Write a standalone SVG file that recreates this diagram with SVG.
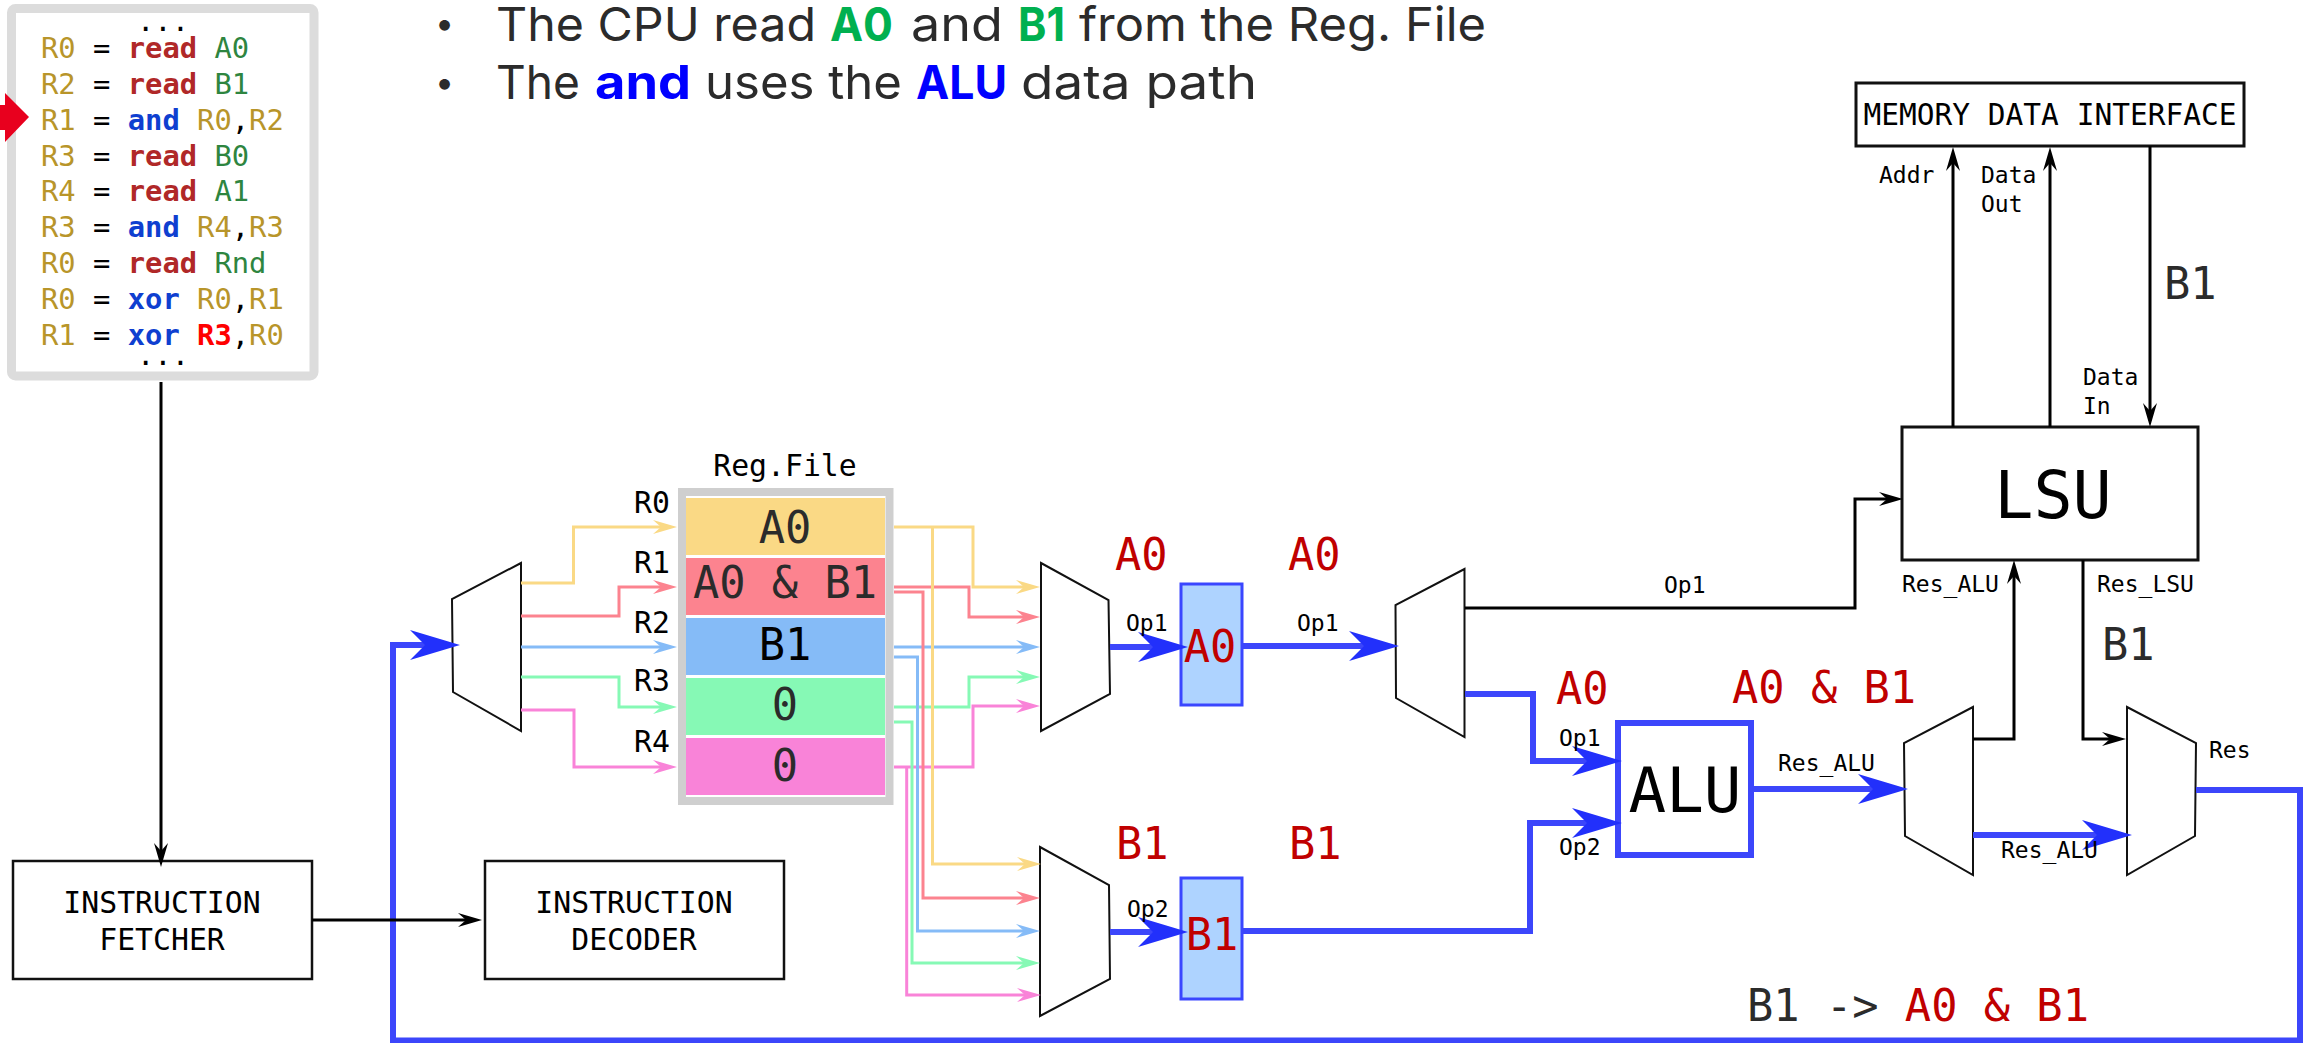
<svg xmlns="http://www.w3.org/2000/svg" width="2308" height="1043" viewBox="0 0 2308 1043">
<style>
text{font-family:"DejaVu Sans Mono","Liberation Mono",monospace;fill:#000}
.code{font-size:28.8px}
.r{fill:#b8952a}.rd{fill:#b02828;font-weight:bold}.op{fill:#0f3fd0;font-weight:bold}.v{fill:#2e8540}.hot{fill:#ff0000;font-weight:bold}
.big{font-size:43.700px;fill:#c00000}.dark{fill:#2b2b2b}
.sm{font-size:23px}.md{font-size:29.800px}
.mid{text-anchor:middle}
.bul{font-family:Inter,"Noto Sans",sans-serif;font-size:47px;fill:#2b2b2b}
.dot{font-family:Inter,"Noto Sans",sans-serif;font-size:34px;fill:#2b2b2b}
.grn{fill:#00b050;font-weight:bold}.blu{fill:#0000ff;font-weight:bold}
.box{fill:#fff;stroke:#111;stroke-width:2.5}
.mux{fill:#fff;stroke:#111;stroke-width:2;stroke-linejoin:miter}
.reg{fill:#aed3ff;stroke:#3a46ff;stroke-width:3}
path.k,path.b,path.c{fill:none}
.k{stroke:#000;stroke-width:3}
.b{stroke:#3c46fb;stroke-width:6}
.c{stroke-width:3}
</style>
<defs>
<marker id="mk" markerUnits="userSpaceOnUse" markerWidth="24" markerHeight="14" refX="12" refY="7" orient="auto" overflow="visible"><path d="M0 0L24 7L0 14L8 7Z" fill="#000"/></marker>
<marker id="mb" markerUnits="userSpaceOnUse" markerWidth="50" markerHeight="30" refX="30" refY="15" orient="auto" overflow="visible"><path d="M0 0L50 15L0 30L15 15Z" fill="#2230fb"/></marker>
<marker id="my" markerUnits="userSpaceOnUse" markerWidth="24" markerHeight="14" refX="12" refY="7" orient="auto" overflow="visible"><path d="M0 0L24 7L0 14L8 7Z" fill="#fad985"/></marker>
<marker id="mr" markerUnits="userSpaceOnUse" markerWidth="24" markerHeight="14" refX="12" refY="7" orient="auto" overflow="visible"><path d="M0 0L24 7L0 14L8 7Z" fill="#fc838f"/></marker>
<marker id="ml" markerUnits="userSpaceOnUse" markerWidth="24" markerHeight="14" refX="12" refY="7" orient="auto" overflow="visible"><path d="M0 0L24 7L0 14L8 7Z" fill="#85bbf7"/></marker>
<marker id="mg" markerUnits="userSpaceOnUse" markerWidth="24" markerHeight="14" refX="12" refY="7" orient="auto" overflow="visible"><path d="M0 0L24 7L0 14L8 7Z" fill="#86f9b5"/></marker>
<marker id="mp" markerUnits="userSpaceOnUse" markerWidth="24" markerHeight="14" refX="12" refY="7" orient="auto" overflow="visible"><path d="M0 0L24 7L0 14L8 7Z" fill="#f983d8"/></marker>
</defs>
<rect width="2308" height="1043" fill="#fff"/>

<g id="bullets">
<text class="dot" x="435" y="35">•</text>
<text class="dot" x="435" y="94">•</text>
<text class="bul" x="496" y="41" textLength="320" lengthAdjust="spacingAndGlyphs">The CPU read</text>
<text class="bul grn" x="830" y="41" textLength="63" lengthAdjust="spacingAndGlyphs">A0</text>
<text class="bul" x="911" y="41" textLength="92" lengthAdjust="spacingAndGlyphs">and</text>
<text class="bul grn" x="1018" y="41" textLength="47" lengthAdjust="spacingAndGlyphs">B1</text>
<text class="bul" x="1079" y="41" textLength="407" lengthAdjust="spacingAndGlyphs">from the Reg. File</text>
<text class="bul" x="496" y="99" textLength="84" lengthAdjust="spacingAndGlyphs">The</text>
<text class="bul blu" x="595" y="99" textLength="96" lengthAdjust="spacingAndGlyphs">and</text>
<text class="bul" x="705" y="99" textLength="197" lengthAdjust="spacingAndGlyphs">uses the</text>
<text class="bul blu" x="916" y="99" textLength="91" lengthAdjust="spacingAndGlyphs">ALU</text>
<text class="bul" x="1021" y="99" textLength="236" lengthAdjust="spacingAndGlyphs">data path</text>
</g>

<g id="code">
<rect x="11.5" y="8.5" width="302.500" height="367.500" rx="4" fill="#fff" stroke="#dcdcdc" stroke-width="9"/>
<text class="code mid" x="163" y="31">...</text>
<text class="code" x="41" y="58"><tspan class="r">R0</tspan> = <tspan class="rd">read</tspan> <tspan class="v">A0</tspan></text>
<text class="code" x="41" y="94"><tspan class="r">R2</tspan> = <tspan class="rd">read</tspan> <tspan class="v">B1</tspan></text>
<text class="code" x="41" y="130"><tspan class="r">R1</tspan> = <tspan class="op">and</tspan> <tspan class="r">R0</tspan>,<tspan class="r">R2</tspan></text>
<text class="code" x="41" y="166"><tspan class="r">R3</tspan> = <tspan class="rd">read</tspan> <tspan class="v">B0</tspan></text>
<text class="code" x="41" y="201"><tspan class="r">R4</tspan> = <tspan class="rd">read</tspan> <tspan class="v">A1</tspan></text>
<text class="code" x="41" y="237"><tspan class="r">R3</tspan> = <tspan class="op">and</tspan> <tspan class="r">R4</tspan>,<tspan class="r">R3</tspan></text>
<text class="code" x="41" y="273"><tspan class="r">R0</tspan> = <tspan class="rd">read</tspan> <tspan class="v">Rnd</tspan></text>
<text class="code" x="41" y="309"><tspan class="r">R0</tspan> = <tspan class="op">xor</tspan> <tspan class="r">R0</tspan>,<tspan class="r">R1</tspan></text>
<text class="code" x="41" y="345"><tspan class="r">R1</tspan> = <tspan class="op">xor</tspan> <tspan class="hot">R3</tspan>,<tspan class="r">R0</tspan></text>
<text class="code mid" x="163" y="365">...</text>
</g>
<path id="pc-arrow" d="M0 105H5V93L29 117L5 142V130H0Z" fill="#e8001e"/>

<g id="fetcher"><rect class="box" x="13" y="861" width="299" height="118"/>
<text class="md mid" x="162" y="913">INSTRUCTION</text><text class="md mid" x="162" y="950">FETCHER</text></g>
<g id="decoder"><rect class="box" x="485" y="861" width="299" height="118"/>
<text class="md mid" x="634" y="913">INSTRUCTION</text><text class="md mid" x="634" y="950">DECODER</text></g>

<g id="regfile">
<rect x="682" y="492" width="207.500" height="309" fill="#fff" stroke="#cfcfcf" stroke-width="8"/>
<rect x="686" y="498" width="199" height="57" fill="#fad985"/>
<rect x="686" y="558" width="199" height="57" fill="#fc838f"/>
<rect x="686" y="618" width="199" height="57" fill="#85bbf7"/>
<rect x="686" y="678" width="199" height="57" fill="#86f9b5"/>
<rect x="686" y="738" width="199" height="57" fill="#f983d8"/>
<text class="big dark mid" x="785" y="543">A0</text>
<text class="big dark mid" x="785" y="598">A0 &amp; B1</text>
<text class="big mid" style="fill:#000" x="785" y="660">B1</text>
<text class="big dark mid" x="785" y="720">0</text>
<text class="big dark mid" x="785" y="781">0</text>
<text class="md mid" x="785" y="476">Reg.File</text>
<text class="md" x="634" y="513">R0</text><text class="md" x="634" y="573">R1</text><text class="md" x="634" y="633">R2</text><text class="md" x="634" y="691">R3</text><text class="md" x="634" y="752">R4</text>
</g>

<g id="mux-wb"><path class="mux" d="M521 563L452 599L453 692L521 731Z"/></g>
<g id="mux-op1"><path class="mux" d="M1041 563L1108.500 600L1110 694L1041 731Z"/></g>
<g id="mux-op2"><path class="mux" d="M1040 847L1109 885L1110 979L1040 1016Z"/></g>
<g id="mux-ex"><path class="mux" d="M1464.500 569L1395.500 605L1396 698L1464.500 737Z"/></g>
<g id="mux-alu"><path class="mux" d="M1973 707L1904 743L1905 836L1973 875Z"/></g>
<g id="mux-res"><path class="mux" d="M2127 707L2196 743L2195 836L2127 875Z"/></g>

<g id="reg-a0"><rect class="reg" x="1181" y="584" width="61" height="121"/><text class="big mid" x="1210" y="662">A0</text></g>
<g id="reg-b1"><rect class="reg" x="1181" y="878" width="61" height="121"/><text class="big mid" x="1212" y="950">B1</text></g>
<g id="alu"><rect x="1618" y="723" width="133" height="132" fill="#fff" stroke="#3c46fb" stroke-width="6"/><text class="mid" style="font-size:62.500px" x="1685" y="812">ALU</text></g>
<g id="lsu"><rect class="box" style="stroke-width:3" x="1902" y="427" width="296" height="133"/><text class="mid" style="font-size:65px" x="2053" y="518">LSU</text></g>
<g id="memory"><rect class="box" style="stroke-width:3" x="1856" y="83" width="388" height="63"/><text class="mid" style="font-size:29.500px" x="2050" y="125">MEMORY DATA INTERFACE</text></g>

<g id="connectors">
<path class="c" stroke="#fad985" marker-end="url(#my)" d="M521 583H573.500V527H665"/>
<path class="c" stroke="#fc838f" marker-end="url(#mr)" d="M521 616H619V587H665"/>
<path class="c" stroke="#85bbf7" marker-end="url(#ml)" d="M521 647H665"/>
<path class="c" stroke="#86f9b5" marker-end="url(#mg)" d="M521 677H619V707H665"/>
<path class="c" stroke="#f983d8" marker-end="url(#mp)" d="M521 710H574V767H665"/>

<path class="c" stroke="#f983d8" marker-end="url(#mp)" d="M894 767H973V706H1028"/>
<path class="c" stroke="#f983d8" marker-end="url(#mp)" d="M906.700 767V995H1029"/>
<path class="c" stroke="#86f9b5" marker-end="url(#mg)" d="M894 707H969V677H1028"/>
<path class="c" stroke="#86f9b5" marker-end="url(#mg)" d="M894 722H912V963H1028"/>
<path class="c" stroke="#85bbf7" marker-end="url(#ml)" d="M894 647H1028"/>
<path class="c" stroke="#85bbf7" marker-end="url(#ml)" d="M894 657H917.500V931H1028"/>
<path class="c" stroke="#fc838f" marker-end="url(#mr)" d="M894 587H969V617H1028"/>
<path class="c" stroke="#fc838f" marker-end="url(#mr)" d="M894 592H923V898H1028"/>
<path class="c" stroke="#fad985" marker-end="url(#my)" d="M894 527H973V587H1028"/>
<path class="c" stroke="#fad985" marker-end="url(#my)" d="M932.500 527V864H1029"/>

<path class="k" marker-end="url(#mk)" d="M161 382V855"/>
<path class="b" marker-end="url(#mb)" d="M2196 790H2300V1040.500H393V645H440"/>
<path class="k" marker-end="url(#mk)" d="M312 920H470"/>

<path class="b" marker-end="url(#mb)" d="M1110 647H1168"/>
<path class="b" marker-end="url(#mb)" d="M1110 932H1168"/>
<path class="b" marker-end="url(#mb)" d="M1242 646H1379"/>
<path class="b" marker-end="url(#mb)" d="M1242 931H1530V823H1602"/>
<path class="b" marker-end="url(#mb)" d="M1465 694H1533V761H1602"/>
<path class="b" marker-end="url(#mb)" d="M1751 789H1888"/>
<path class="b" marker-end="url(#mb)" d="M1973 835H2112"/>
<path class="k" marker-end="url(#mk)" d="M1465 608H1855V499H1891"/>
<path class="k" marker-end="url(#mk)" d="M1973 739H2014V572"/>
<path class="k" marker-end="url(#mk)" d="M2083 560V739H2114"/>
<path class="k" marker-end="url(#mk)" d="M1953 427V159"/>
<path class="k" marker-end="url(#mk)" d="M2050 427V159"/>
<path class="k" marker-end="url(#mk)" d="M2150 146V415"/>
</g>

<g id="labels">
<text class="big" x="1115" y="570">A0</text>
<text class="big" x="1288" y="570">A0</text>
<text class="big" x="1556" y="704">A0</text>
<text class="big" x="1116" y="859">B1</text>
<text class="big" x="1289" y="859">B1</text>
<text class="big" x="1732" y="703">A0 &amp; B1</text>
<text class="big dark" x="2164" y="299">B1</text>
<text class="big dark" x="2102" y="660">B1</text>
<text class="big" x="1747" y="1021"><tspan class="dark">B1 -&gt; </tspan>A0 &amp; B1</text>
<text class="sm" x="1126" y="631">Op1</text>
<text class="sm" x="1297" y="631">Op1</text>
<text class="sm" x="1664" y="593">Op1</text>
<text class="sm" x="1559" y="746">Op1</text>
<text class="sm" x="1559" y="855">Op2</text>
<text class="sm" x="1127" y="917">Op2</text>
<text class="sm" x="1778" y="771">Res_ALU</text>
<text class="sm" x="1902" y="592">Res_ALU</text>
<text class="sm" x="2097" y="592">Res_LSU</text>
<text class="sm" x="2001" y="858">Res_ALU</text>
<text class="sm" x="2209" y="758">Res</text>
<text class="sm" x="1879" y="183">Addr</text>
<text class="sm" x="1981" y="183">Data</text>
<text class="sm" x="1981" y="212">Out</text>
<text class="sm" x="2083" y="385">Data</text>
<text class="sm" x="2083" y="414">In</text>
</g>
</svg>
